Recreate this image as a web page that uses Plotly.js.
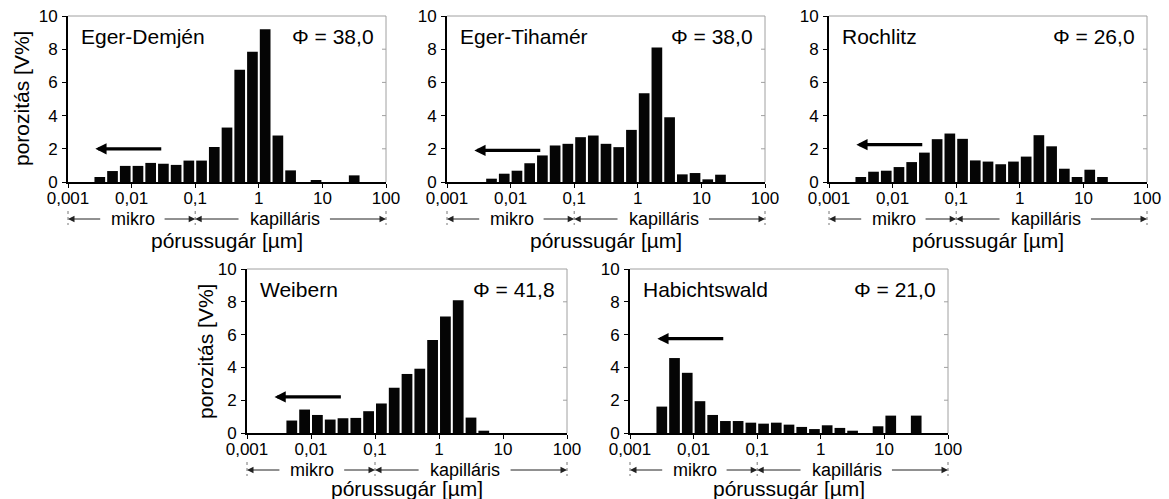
<!DOCTYPE html>
<html><head><meta charset="utf-8">
<script src="https://cdn.plot.ly/plotly-3.0.1.min.js"></script>
<style>html,body{margin:0;padding:0;background:#fff}#chart{width:1169px;height:499px}</style>
</head><body><div id="chart"></div>
<script>
// log10 of the lower edge of each pore-radius bin [µm]
const binLog = [-3.0,-2.8,-2.6,-2.4,-2.2,-2.0,-1.8,-1.6,-1.4,-1.2,-1.0,-0.8,-0.6,-0.4,-0.2,0.0,0.2,0.4,0.6,0.8,1.0,1.2,1.4,1.6,1.8];
// porosity [V%] per bin
const egerDemjen   = [null,null,0.30,0.66,0.97,0.97,1.15,1.10,1.03,1.29,1.29,2.11,3.28,6.76,7.85,9.20,2.80,0.70,null,0.12,null,null,0.40,null,null];
const egerTihamer  = [null,null,null,0.20,0.50,0.68,1.13,1.60,2.20,2.30,2.70,2.80,2.30,2.10,3.14,5.35,8.10,3.90,0.46,0.54,0.16,0.44,null,null,null];
const rochlitz     = [null,null,0.30,0.62,0.68,0.90,1.20,1.77,2.58,2.92,2.60,1.30,1.23,1.07,1.23,1.53,2.82,2.15,0.80,0.30,0.74,0.30,null,null,null];
const weibern      = [null,null,null,0.76,1.43,1.10,0.82,0.90,0.92,1.33,1.80,2.76,3.60,3.92,5.67,7.10,8.10,0.94,0.14,null,null,null,null,null,null];
const habichtswald = [null,null,1.61,4.57,3.67,1.94,1.10,0.73,0.73,0.63,0.57,0.63,0.51,0.37,0.24,0.47,0.31,0.14,null,0.41,1.06,null,1.06,null,null];

const sampleNames = ['Eger-Demjén','Eger-Tihamér','Rochlitz','Weibern','Habichtswald'];
const porosityTotal = ['38,0','38,0','26,0','41,8','21,0'];
const seriesList = [egerDemjen, egerTihamer, rochlitz, weibern, habichtswald];

const xTickVals = [-3,-2,-1,0,1,2];
const xTickText = ['0,001','0,01','0,1','1','10','100'];
const yTickVals = [0,2,4,6,8,10];
const yTickText = ['0','2','4','6','8','10'];
const xTitle = 'pórussugár [µm]';
const yTitle = 'porozitás [V%]';
const zoneMicro = 'mikro';
const zoneCap = 'kapilláris';

// layout configuration (pixel geometry of the figure)
const W = 1169, H = 499;
const panels = [
  {x:[68,386],   y:[16,182],  arrowY:2.0,  yTitle:true,  yTitleX:22,  titleOff:59, zoneOff:37},
  {x:[447,765],  y:[16,182],  arrowY:1.9,  yTitle:false, titleOff:59, zoneOff:37},
  {x:[829,1147], y:[16,182],  arrowY:2.25, yTitle:false, titleOff:59, zoneOff:37},
  {x:[247,567],  y:[269,433], arrowY:2.2,  yTitle:true,  yTitleX:205, titleOff:55, zoneOff:37},
  {x:[630,948],  y:[269,433], arrowY:5.75, yTitle:false, titleOff:55, zoneOff:37}
];
// zone bracket segments, as fractions of the axis width: [head, tail]
const zoneSegments = [[0, 0.106], [0.4, 0.299], [0.4, 0.541], [1, 0.819]];
const zoneLabelPos = [0.204, 0.682];

const FONT = 'Liberation Sans, Arial, Helvetica, sans-serif';
const TICK = 17;
const data = [];
const layout = {
  width: W, height: H,
  margin: {l:0, r:0, t:0, b:0},
  paper_bgcolor: '#fff', plot_bgcolor: '#fff',
  showlegend: false,
  font: {family: FONT, color: '#000', size: 18},
  shapes: [], annotations: []
};

panels.forEach((p, i) => {
  const n = i === 0 ? '' : String(i + 1);
  const xa = 'x' + n, ya = 'y' + n;
  data.push({
    type: 'bar',
    x: binLog.map(v => v + 0.1),
    y: seriesList[i],
    width: 0.168,
    marker: {color: '#050505', line: {width: 0}},
    xaxis: xa, yaxis: ya,
    hoverinfo: 'skip'
  });
  const ph = p.y[1] - p.y[0], pw = p.x[1] - p.x[0];
  layout['xaxis' + n] = {
    domain: [p.x[0] / W, p.x[1] / W],
    anchor: ya,
    range: [-3, 2],
    tickmode: 'array', tickvals: xTickVals, ticktext: xTickText,
    ticks: 'outside', ticklen: 4, tickwidth: 1, tickcolor: '#000',
    ticklabelstandoff: -4,
    showline: true, linecolor: '#000', linewidth: 2,
    showgrid: false, zeroline: false,
    tickfont: {family: FONT, size: TICK, color: '#000'},
    fixedrange: true
  };
  layout['yaxis' + n] = {
    domain: [1 - p.y[1] / H, 1 - p.y[0] / H],
    anchor: xa,
    range: [0, 10],
    tickmode: 'array', tickvals: yTickVals, ticktext: yTickText,
    ticks: 'outside', ticklen: 4, tickwidth: 1, tickcolor: '#000',
    ticklabelstandoff: 1,
    showline: true, linecolor: '#000', linewidth: 2,
    showgrid: false, zeroline: false,
    tickfont: {family: FONT, size: TICK, color: '#000'},
    fixedrange: true
  };
  const xd = xa + ' domain', yd = ya + ' domain';
  // gray top/right frame
  layout.shapes.push({type:'line', xref:xd, yref:yd, x0:0, x1:1, y0:1, y1:1, line:{color:'#a0a0a0', width:1}});
  layout.shapes.push({type:'line', xref:xd, yref:yd, x0:1, x1:1, y0:0, y1:1, line:{color:'#a0a0a0', width:1}});
  yTickVals.slice(1, -1).forEach(v => {
    layout.shapes.push({type:'line', xref:xd, xsizemode:'pixel', xanchor:1, x0:-4, x1:0, yref:ya, y0:v, y1:v, line:{color:'#a0a0a0', width:1}});
  });
  // dashed zone separators at 0.001, 0.1, 100 µm
  const dy0 = -(p.zoneOff - 8) / ph, dy1 = -(p.zoneOff + 6) / ph;
  [-3, -1, 2].forEach(lv => {
    const f = (lv + 3) / 5;
    layout.shapes.push({type:'line', xref:xd, yref:yd, x0:f, x1:f, y0:dy0, y1:dy1, line:{color:'#777', width:1, dash:'dot'}});
  });
  const ay = -p.zoneOff / ph;
  zoneSegments.forEach(s => {
    layout.annotations.push({xref:xd, yref:yd, axref:xd, ayref:'pixel', x:s[0], ax:s[1], y:ay, ay:0,
      text:'', showarrow:true, arrowhead:2, arrowsize:1.3, arrowwidth:1, arrowcolor:'#222'});
  });
  [zoneMicro, zoneCap].forEach((t, k) => {
    layout.annotations.push({xref:xd, yref:yd, x:zoneLabelPos[k], y:ay, text:t, showarrow:false,
      font:{family:FONT, size:18, color:'#000'}, xanchor:'center', yanchor:'middle'});
  });
  // x title
  layout.annotations.push({xref:xd, yref:yd, x:0.5, y:-p.titleOff / ph, text:xTitle, showarrow:false,
    font:{family:FONT, size:21, color:'#000'}, xanchor:'center', yanchor:'middle'});
  // y title
  if (p.yTitle) {
    layout.annotations.push({xref:'paper', yref:'paper', x:p.yTitleX / W, y:1 - (p.y[0] + p.y[1]) / 2 / H,
      text:yTitle, textangle:-90, showarrow:false, font:{family:FONT, size:21, color:'#000'},
      xanchor:'center', yanchor:'middle'});
  }
  // sample name and total porosity
  layout.annotations.push({xref:xd, yref:yd, x:11 / pw, y:1 - 20 / ph, text:sampleNames[i], showarrow:false,
    font:{family:FONT, size:21, color:'#000'}, xanchor:'left', yanchor:'middle'});
  layout.annotations.push({xref:xd, yref:yd, x:1 - 10 / pw, y:1 - 20 / ph, text:'Φ = ' + porosityTotal[i], showarrow:false,
    font:{family:FONT, size:21, color:'#000'}, xanchor:'right', yanchor:'middle'});
  // arrow inside the plot pointing to smaller radii
  layout.annotations.push({xref:xa, yref:ya, axref:xa, ayref:'pixel', x:-2.57, y:p.arrowY, ax:-1.51, ay:0,
    text:'', showarrow:true, arrowhead:2, arrowsize:0.7, arrowwidth:3.2, arrowcolor:'#000'});
});

Plotly.newPlot('chart', data, layout, {displayModeBar:false, staticPlot:true});
</script>
</body></html>
